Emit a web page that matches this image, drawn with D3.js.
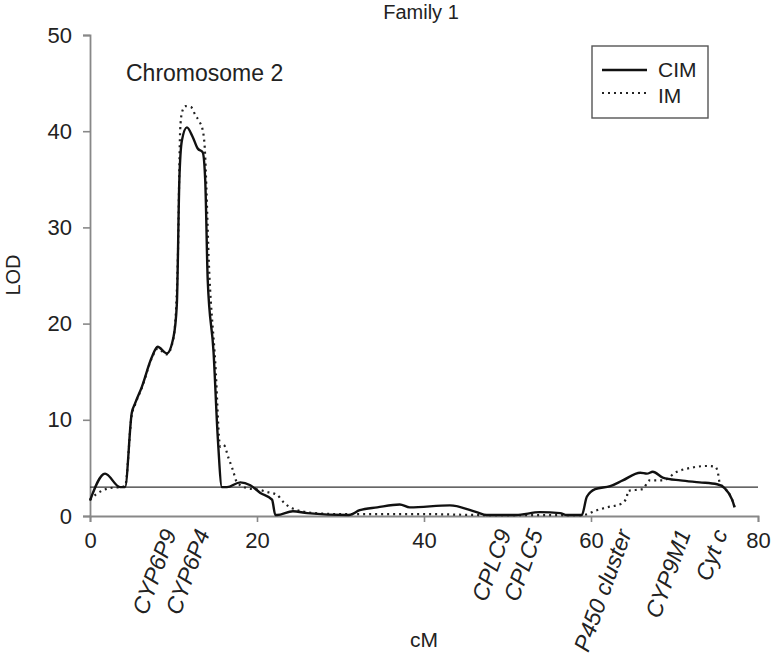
<!DOCTYPE html>
<html>
  <head>
    <title>Family 1</title>
    <script src="https://d3js.org/d3.v7.min.js"></script>
    <style>
      body { margin: 0; background: #fff; }
      text { font-family: "Liberation Sans", Arial, sans-serif; fill: #222; }
    </style>
  </head>
  <body>
    <svg width="772" height="658"></svg>
    <script>
      // CIM (solid) profile, cM and LOD
      const cimCM  = [0, 1.8, 3.6, 4.2, 5.0, 5.4, 6.2, 7.4, 8.1, 9.2, 10.0, 10.4, 10.7, 11.0, 11.6, 12.3, 12.9, 13.5, 13.8, 14.1, 14.8, 15.3, 15.8, 16.4, 18.0, 19.2, 20.4, 21.8, 22.2, 22.4, 24.3, 26.0, 31.0, 32.3, 34.4, 37.1, 38.3, 43.1, 46.3, 47.5, 51.0, 53.9, 56.3, 57.1, 58.9, 59.5, 60.5, 62.3, 63.8, 65.9, 66.7, 67.4, 68.6, 70.7, 73.0, 75.1, 76.0, 76.9, 77.2];
      const cimLOD = [1.6, 4.4, 3.0, 3.0, 10.7, 11.7, 13.4, 16.5, 17.6, 16.9, 18.6, 22.0, 34.9, 39.0, 40.4, 39.4, 38.2, 37.8, 34.9, 24.5, 17.0, 8.2, 3.0, 3.0, 3.5, 3.2, 2.4, 1.7, 0.1, 0.1, 0.5, 0.3, 0.1, 0.6, 0.9, 1.2, 0.9, 1.1, 0.4, 0.1, 0.1, 0.4, 0.3, 0.1, 0.1, 2.0, 2.8, 3.1, 3.7, 4.5, 4.4, 4.6, 4.0, 3.7, 3.5, 3.3, 2.9, 1.7, 0.9];

      // IM (dotted) profile
      const imCM  = [0, 0.8, 2.4, 3.6, 4.2, 5.0, 5.4, 6.2, 7.4, 8.1, 9.2, 10.0, 10.5, 10.8, 11.0, 11.4, 12.1, 12.6, 13.1, 13.5, 13.7, 14.3, 15.0, 15.6, 16.0, 16.6, 17.1, 17.6, 18.8, 20.4, 21.2, 22.4, 23.1, 24.2, 27.0, 30.0, 35.0, 40.0, 47.0, 52.0, 56.0, 59.0, 60.7, 61.9, 63.7, 64.3, 64.4, 66.2, 67.0, 68.6, 70.3, 71.9, 73.9, 74.9, 75.2, 75.4, 76.0, 76.9, 77.2];
      const imLOD = [1.7, 2.3, 2.9, 3.0, 3.1, 10.5, 11.6, 13.3, 16.4, 17.4, 16.8, 18.5, 26.0, 40.1, 41.9, 42.6, 42.5, 41.7, 41.0, 40.1, 38.8, 25.0, 16.0, 7.2, 7.4, 6.0, 4.8, 3.5, 2.9, 2.7, 2.5, 2.2, 1.5, 0.8, 0.3, 0.2, 0.2, 0.2, 0.1, 0.1, 0.1, 0.1, 0.6, 0.9, 1.3, 2.0, 2.6, 2.8, 3.7, 3.7, 4.6, 5.0, 5.2, 5.1, 4.5, 3.5, 2.9, 1.7, 0.9];

      const xTicks = [0, 20, 40, 60, 80];
      const yTicks = [0, 10, 20, 30, 40, 50];
      const threshold = 3;

      const markerNames = ["CYP6P9", "CYP6P4", "CPLC9", "CPLC5", "P450 cluster", "CYP9M1", "Cyt c"];
      const markerCM    = [10.4, 14.4, 50.5, 54.3, 64.9, 72.0, 76.4];

      const svg = d3.select("svg");

      const x = d3.scaleLinear().domain([0, 80]).range([90, 758]);
      const y = d3.scaleLinear().domain([0, 50]).range([516, 35]);

      // axes
      const yAxis = svg.append("g")
        .attr("transform", "translate(90,0)")
        .call(d3.axisLeft(y).tickValues(yTicks).tickSize(7).tickPadding(11));
      const xAxis = svg.append("g")
        .attr("transform", "translate(0,516)")
        .call(d3.axisBottom(x).tickValues(xTicks).tickSize(6).tickPadding(10));

      [xAxis, yAxis].forEach(g => {
        g.select(".domain").attr("stroke", "#888").attr("stroke-width", 1.8);
        g.selectAll(".tick line").attr("stroke", "#888").attr("stroke-width", 1.6);
        g.selectAll(".tick text")
          .style("font-family", "Liberation Sans, Arial, sans-serif")
          .style("font-size", "22px")
          .attr("fill", "#222");
      });

      // threshold line
      svg.append("line")
        .attr("x1", x(0)).attr("x2", x(80))
        .attr("y1", y(threshold)).attr("y2", y(threshold))
        .attr("stroke", "#333").attr("stroke-width", 1.3);

      const line = d3.line()
        .x(d => x(d[0]))
        .y(d => y(d[1]))
        .curve(d3.curveMonotoneX);

      svg.append("path")
        .datum(d3.zip(imCM, imLOD))
        .attr("d", line)
        .attr("fill", "none")
        .attr("stroke", "#222")
        .attr("stroke-width", 2.2)
        .attr("stroke-dasharray", "2,4");

      svg.append("path")
        .datum(d3.zip(cimCM, cimLOD))
        .attr("d", line)
        .attr("fill", "none")
        .attr("stroke", "#111")
        .attr("stroke-width", 2.4);

      // marker labels
      svg.selectAll(".marker")
        .data(markerNames)
        .enter().append("text")
          .attr("class", "marker")
          .attr("transform", (d, i) => `translate(${x(markerCM[i])},533) rotate(-70)`)
          .attr("text-anchor", "end")
          .style("font-size", "23px")
          .style("font-style", "italic")
          .text(d => d);

      // titles
      svg.append("text")
        .attr("x", 421).attr("y", 19)
        .attr("text-anchor", "middle")
        .style("font-size", "20px")
        .text("Family 1");

      svg.append("text")
        .attr("x", 126).attr("y", 81)
        .style("font-size", "23px")
        .text("Chromosome 2");

      svg.append("text")
        .attr("transform", "translate(20,275) rotate(-90)")
        .attr("text-anchor", "middle")
        .style("font-size", "20px")
        .text("LOD");

      svg.append("text")
        .attr("x", 424).attr("y", 647)
        .attr("text-anchor", "middle")
        .style("font-size", "21px")
        .text("cM");

      // legend
      const legend = svg.append("g").attr("transform", "translate(592,46)");
      legend.append("rect")
        .attr("width", 116).attr("height", 72)
        .attr("fill", "#fff").attr("stroke", "#555").attr("stroke-width", 1.4);
      legend.append("line")
        .attr("x1", 10).attr("x2", 55).attr("y1", 24).attr("y2", 24)
        .attr("stroke", "#111").attr("stroke-width", 2.4);
      legend.append("line")
        .attr("x1", 10).attr("x2", 55).attr("y1", 47).attr("y2", 47)
        .attr("stroke", "#222").attr("stroke-width", 2.2).attr("stroke-dasharray", "2,4");
      legend.append("text").attr("x", 66).attr("y", 31).style("font-size", "21px").text("CIM");
      legend.append("text").attr("x", 66).attr("y", 57).style("font-size", "21px").text("IM");
    </script>
  </body>
</html>
